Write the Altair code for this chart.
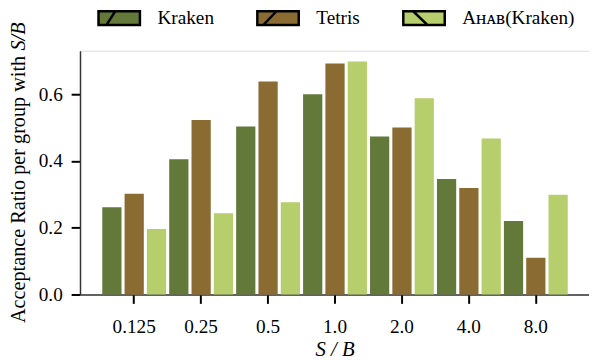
import json
import altair as alt
import pandas as pd

ratios = ["0.125", "0.25", "0.5", "1.0", "2.0", "4.0", "8.0"]
systems = ["Kraken", "Tetris", "Aʜᴀʙ(Kraken)"]
kraken = [0.261, 0.405, 0.503, 0.600, 0.473, 0.346, 0.220]
tetris = [0.302, 0.523, 0.638, 0.692, 0.500, 0.319, 0.110]
ahab = [0.196, 0.243, 0.276, 0.698, 0.588, 0.467, 0.299]
colors = ["#63793A", "#8A6C32", "#B6CE6B"]
y_max = 0.73
# legend patches: box with one hatch stroke
shapes = [
    "M-2.625,-0.875H2.625V0.875H-2.625ZM-1.625,0.875L-0.5,-0.875",
    "M-2.625,-0.875H2.625V0.875H-2.625ZM-1.875,0.875L-0.2,-0.875",
    "M-2.625,-0.875H2.625V0.875H-2.625ZM-1.375,-0.875L0.46,0.875",
]

rows = []
for name, vals in zip(systems, [kraken, tetris, ahab]):
    for r, v in zip(ratios, vals):
        rows.append({"ratio": r, "system": name, "value": v})
df = pd.DataFrame(rows)

FONT = "Liberation Serif"
W, H = 520, 247

xscale = alt.Scale(domain=ratios, paddingInner=0, paddingOuter=0.3315, align=0.467)
offscale = alt.Scale(domain=systems, paddingInner=0.138, paddingOuter=0.069)
yscale = alt.Scale(domain=[0, y_max], nice=False)
cscale = alt.Scale(domain=systems, range=colors)

xaxis = alt.Axis(title="S / B", labelAngle=0, tickSize=9, tickWidth=2,
                 tickColor="black", domainColor="#333333", domainWidth=1.5,
                 labelFont=FONT, labelFontSize=19.5, labelColor="black",
                 labelBaseline="alphabetic", labelPadding=30,
                 titleFont=FONT, titleFontSize=21, titleFontStyle="italic",
                 titleFontWeight="normal", titleColor="black",
                 titleBaseline="alphabetic", titleX=258, titleY=62)

yaxis = alt.Axis(title="Acceptance Ratio per group with",
                 values=[0, 0.2, 0.4, 0.6], format=".1f", grid=False,
                 tickSize=9, tickWidth=2, tickColor="black",
                 domainColor="#333333", domainWidth=1.5,
                 labelFont=FONT, labelFontSize=19.5, labelColor="black",
                 labelPadding=9,
                 titleFont=FONT, titleFontSize=20.5, titleFontWeight="normal",
                 titleColor="black", titleBaseline="alphabetic",
                 titleX=-56, titleY=140)

yaxis2 = alt.Axis(orient="left", title="S/B", labels=False, ticks=False,
                  domain=False, grid=False,
                  titleFont=FONT, titleFontSize=20.5, titleFontWeight="normal",
                  titleFontStyle="italic", titleColor="black",
                  titleBaseline="alphabetic", titleX=-56, titleY=-15)

shape_expr = ("[" + ",".join("'" + p + "'" for p in shapes) + "][indexof("
              + json.dumps(systems, ensure_ascii=False) + ", datum.value)]")

leg = alt.Legend(title=None, orient="none", direction="horizontal",
                 legendX=30, legendY=-43, padding=0,
                 symbolSize=256, symbolType=alt.ExprRef(expr=shape_expr),
                 symbolStrokeColor="black", symbolStrokeWidth=2.5,
                 symbolOpacity=1,
                 labelFont=FONT, labelFontSize=19.5,
                 labelColor="black", labelOffset=29,
                 columnPadding=38, labelLimit=300)

base = alt.Chart(df)

bars = base.mark_bar().encode(
    x=alt.X("ratio:N", scale=xscale, sort=ratios, axis=xaxis),
    xOffset=alt.XOffset("system:N", scale=offscale, sort=systems),
    y=alt.Y("value:Q", scale=yscale, axis=yaxis),
    color=alt.Color("system:N", scale=cscale, sort=systems, legend=leg),
)

title_part = base.mark_point(opacity=0).encode(
    x=alt.X("ratio:N", scale=xscale, sort=ratios, axis=xaxis),
    y=alt.Y("value:Q", scale=yscale, axis=yaxis2),
)

chart = alt.layer(bars, title_part).resolve_axis(y="independent").properties(
    width=W, height=H,
    padding={"left": 73, "top": 41, "right": -4, "bottom": 64},
    autosize="none",
).configure_view(stroke="#333333", strokeWidth=1.5).configure(background="white")

chart.save("out.html", embed_options={"renderer": "svg", "actions": False})
